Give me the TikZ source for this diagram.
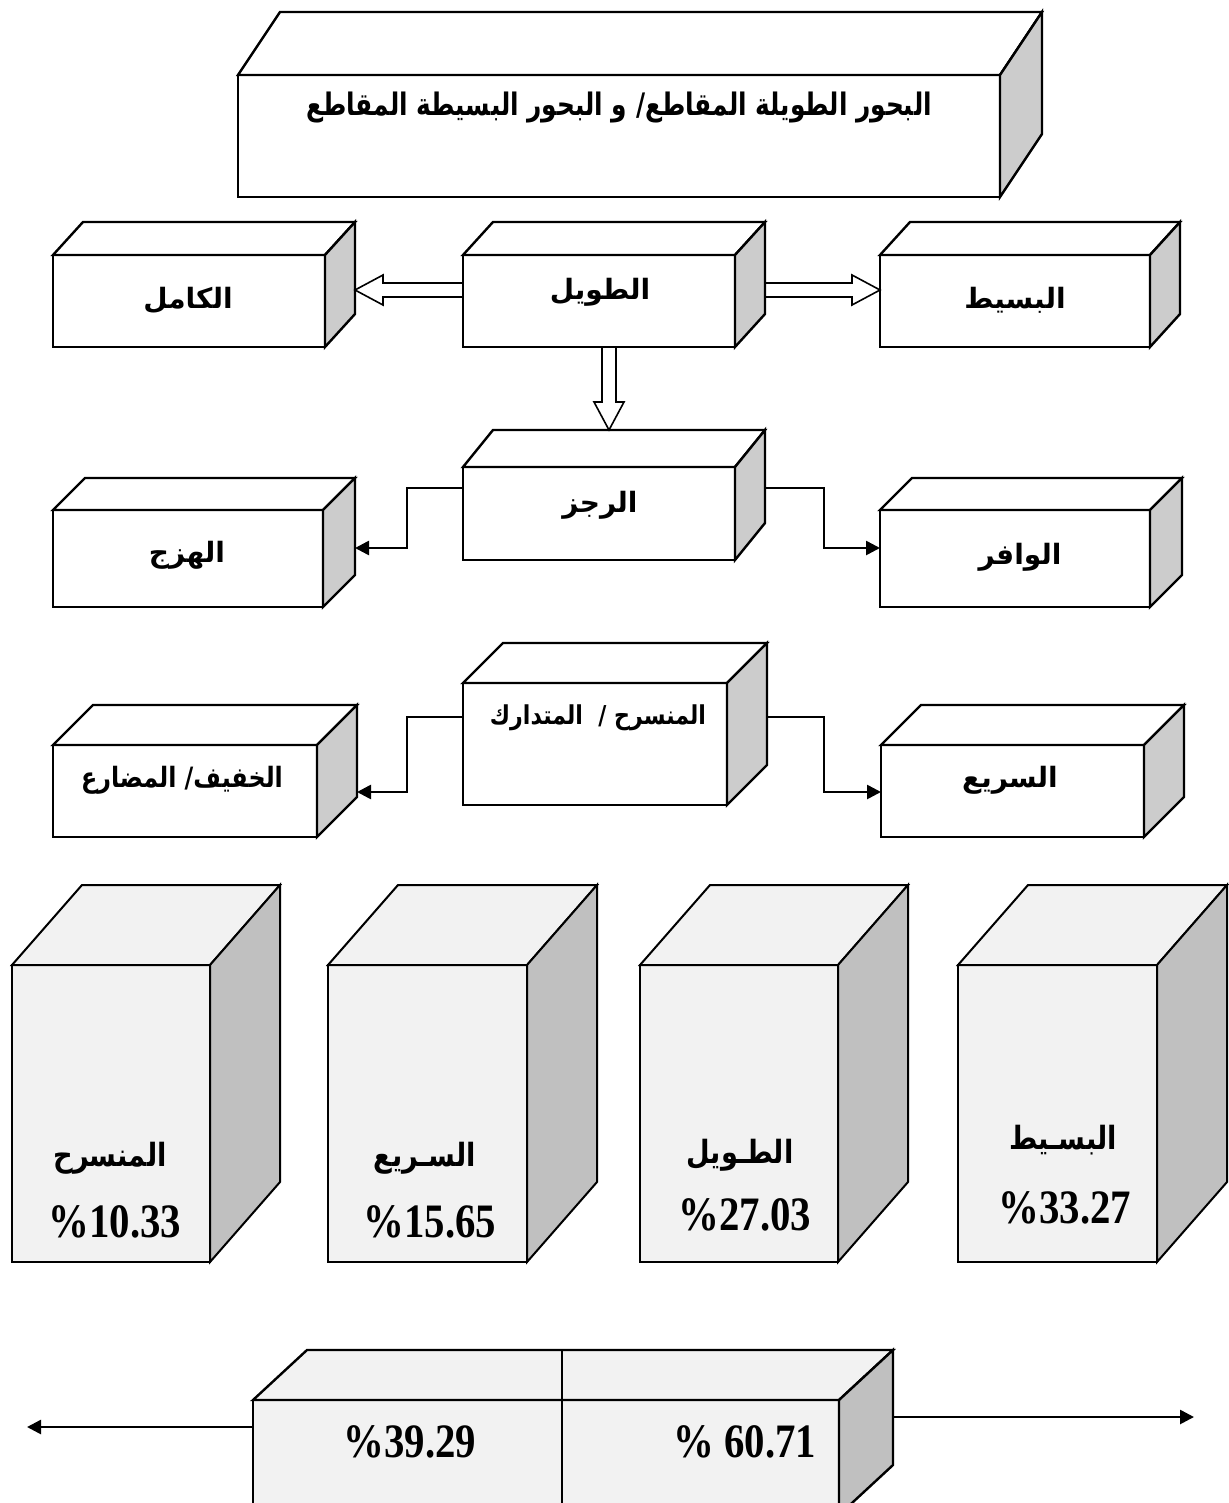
\documentclass[tikz,border=0pt]{standalone}
\usepackage{fontspec}
\usetikzlibrary{arrows.meta,calc}
\TeXXeTstate=1
\newfontfamily\arabicfont[Script=Arabic]{DejaVu Sans}
\newfontfamily\arabicnarrow[Script=Arabic,FakeStretch=0.85]{DejaVu Sans}
\newfontfamily\arabictitle[Script=Arabic,FakeStretch=0.8]{DejaVu Sans}
\newfontfamily\numfont[FakeStretch=0.85]{Liberation Serif}

\definecolor{sidegray}{HTML}{CCCCCC}
\definecolor{cubefront}{HTML}{F2F2F2}
\definecolor{cubeside}{HTML}{C0C0C0}

% 3-D box: #1 name, #2 left, #3 top, #4 width, #5 height,
% #6 depth x, #7 depth y, #8 front/top fill, #9 side fill
\newcommand\prism[9]{%
  \node[frontface, fill=#8, minimum width=#4*0.5pt, minimum height=#5*0.5pt,
        anchor=north west] (#1) at (#2,#3) {};
  \filldraw[faceline, fill=#8] (#1.north west) -- ++(#6,-#7) -- ++(#4,0)
        -- (#1.north east) -- cycle;
  \filldraw[faceline, fill=#9] (#1.north east) -- ++(#6,-#7) -- ++(0,#5)
        -- (#1.south east) -- cycle;
}

\tikzset{
  frontface/.style={draw, line width=1.2pt, inner sep=0pt, outer sep=0pt},
  faceline/.style={line width=1.2pt, line join=miter},
  hollowline/.style={line width=0.8pt, line join=miter},
  conn/.style={line width=1.3pt, -{Triangle[length=7pt,width=7pt]}},
  arlbl/.style={font=\arabicfont\bfseries\fontsize{14}{17}\selectfont},
  arnarrow/.style={font=\arabicnarrow\bfseries\fontsize{14}{17}\selectfont},
  artitle/.style={font=\arabictitle\bfseries\fontsize{15.5}{19}\selectfont},
  arbig/.style={font=\arabicnarrow\bfseries\fontsize{16}{19}\selectfont},
  numlbl/.style={font=\numfont\bfseries\fontsize{24}{28}\selectfont},
}

\begin{document}
\begin{tikzpicture}[x=0.5pt,y=-0.5pt]
\useasboundingbox[fill=white] (0,0) rectangle (1228,1503);

% title
\prism{title}{238}{75}{762}{122}{42}{63}{white}{sidegray}
\node[artitle] (ttl) at (619,108) {\beginR البحور الطويلة المقاطع/ و البحور البسيطة المقاطع\endR};

% first row
\prism{km}{53}{255}{272}{92}{30}{33}{white}{sidegray}
\prism{tw}{463}{255}{272}{92}{30}{33}{white}{sidegray}
\prism{bs}{880}{255}{270}{92}{30}{33}{white}{sidegray}
\node[arlbl] (kmL) at (188,300) {\beginR الكامل\endR};
\node[arlbl] (twL) at (600,292) {\beginR الطويل\endR};
\node[arlbl] (bsL) at (1015,300) {\beginR البسيط\endR};

% second row
\prism{rj}{463}{467}{272}{93}{30}{37}{white}{sidegray}
\prism{hz}{53}{510}{270}{97}{32}{32}{white}{sidegray}
\prism{wf}{880}{510}{270}{97}{32}{32}{white}{sidegray}
\node[arlbl] (rjL) at (600,505) {\beginR الرجز\endR};
\node[arlbl] (hzL) at (187,555) {\beginR الهزج\endR};
\node[arlbl] (wfL) at (1020,557) {\beginR الوافر\endR};

% third row
\prism{mn}{463}{683}{264}{122}{40}{40}{white}{sidegray}
\prism{kh}{53}{745}{264}{92}{40}{40}{white}{sidegray}
\prism{sr}{881}{745}{263}{92}{40}{40}{white}{sidegray}
\node[arnarrow, font=\arabicnarrow\bfseries\fontsize{13}{16}\selectfont] (mnL) at (598,718) {\beginR المنسرح /\ \ المتدارك\endR};
\node[arnarrow] (khL) at (182,780) {\beginR الخفيف/ المضارع\endR};
\node[arlbl] (srL) at (1010,780) {\beginR السريع\endR};

% hollow arrows out of the middle box of the first row
\draw[hollowline] let \p1=($(tw.north west)+(0,35)$), \p2=($(km.north east)+(30,35)$) in
  (\x1,\y1+3.5pt) -- (\x2+14pt,\y1+3.5pt) -- (\x2+14pt,\y1+7.5pt) -- (\x2,\y2)
  -- (\x2+14pt,\y1-7.5pt) -- (\x2+14pt,\y1-3.5pt) -- (\x1,\y1-3.5pt);
\draw[hollowline] let \p1=($(tw.north east)+(30,35)$), \p2=($(bs.north west)+(0,35)$) in
  (\x1,\y1+3.5pt) -- (\x2-14pt,\y1+3.5pt) -- (\x2-14pt,\y1+7.5pt) -- (\x2,\y2)
  -- (\x2-14pt,\y1-7.5pt) -- (\x2-14pt,\y1-3.5pt) -- (\x1,\y1-3.5pt);
\draw[hollowline] let \p1=($(tw.south west)+(146,0)$), \p2=($(rj.north west)+(146,-37)$) in
  (\x1-3.5pt,\y1) -- (\x1-3.5pt,\y2+14pt) -- (\x1-7.5pt,\y2+14pt) -- (\x1,\y2)
  -- (\x1+7.5pt,\y2+14pt) -- (\x1+3.5pt,\y2+14pt) -- (\x1+3.5pt,\y1);

% elbow connectors
\draw[conn] ($(rj.north west)+(0,21)$) -- ++(-56,0) |- ($(hz.north east)+(32,38)$);
\draw[conn] ($(rj.north east)+(30,21)$) -- ++(59,0) |- ($(wf.north west)+(0,38)$);
\draw[conn] ($(mn.north west)+(0,34)$) -- ++(-56,0) |- ($(kh.north east)+(40,47)$);
\draw[conn] ($(mn.north east)+(40,34)$) -- ++(57,0) |- ($(sr.north west)+(0,47)$);

% percentage cubes
\begin{scope}[faceline/.append style={line width=1pt}, frontface/.append style={line width=1pt}]
\prism{c1}{12}{965}{198}{297}{70}{80}{cubefront}{cubeside}
\prism{c2}{328}{965}{199}{297}{70}{80}{cubefront}{cubeside}
\prism{c3}{640}{965}{198}{297}{70}{80}{cubefront}{cubeside}
\prism{c4}{958}{965}{199}{297}{70}{80}{cubefront}{cubeside}
\end{scope}
\node[arbig] (c1L) at (110,1158) {\beginR المنسرح\endR};
\node[arbig] (c2L) at (425,1158) {\beginR السـريع\endR};
\node[arbig] (c3L) at (740,1155) {\beginR الطـويل\endR};
\node[arbig] (c4L) at (1063,1140) {\beginR البسـيط\endR};
\node[numlbl] (c1N) at (115,1222) {\%10.33};
\node[numlbl] (c2N) at (430,1222) {\%15.65};
\node[numlbl] (c3N) at (745,1215) {\%27.03};
\node[numlbl] (c4N) at (1065,1208) {\%33.27};

% totals box
\prism{bb}{253}{1400}{586}{115}{54}{50}{cubefront}{cubeside}
\draw[line width=0.6pt] ($(bb.north west)+(309,-50)$) -- ($(bb.south west)+(309,0)$);
\node[numlbl] (bbL) at (410,1442) {\%39.29};
\node[numlbl] (bbR) at (745,1442) {\% 60.71};
\coordinate (leftEnd) at (27,1427);
\coordinate (rightEnd) at (1194,1417);
\draw[conn] ($(bb.north west)+(0,27)$) -- (leftEnd);
\draw[conn] ($(bb.north east)+(54,17)$) -- (rightEnd);
\end{tikzpicture}
\end{document}
